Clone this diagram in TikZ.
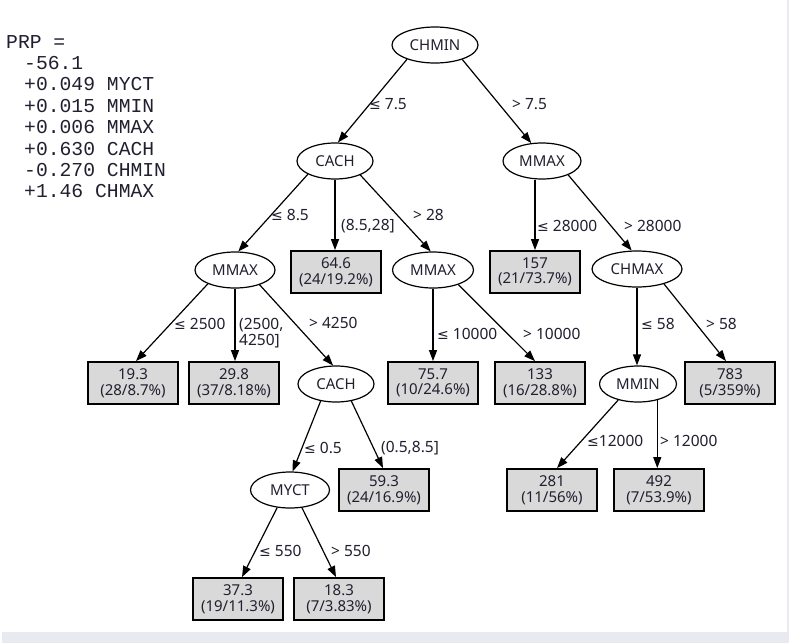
\documentclass[tikz,border=0pt]{standalone}
\usepackage{fontspec}
\setmainfont{Noto Sans}
\newfontfamily\monof{Liberation Mono}
\newfontfamily\symf{DejaVu Sans}
\newcommand{\lsym}{{\symf\fontsize{14}{15}\selectfont ≤}}
\usetikzlibrary{shapes.geometric,arrows.meta}
\definecolor{txt}{HTML}{202030}
\definecolor{boxfill}{HTML}{D9D9D9}
\definecolor{strip}{HTML}{E9E9F1}
\begin{document}
\begin{tikzpicture}[x=1pt,y=-1pt,
  every node/.style={text=txt, font=\fontsize{15}{15.5}\selectfont},
  split/.style={draw=black, ellipse, line width=1.2pt, fill=white, inner sep=0pt, minimum height=36pt, minimum width=#1},
  split/.default=79pt,
  leaf/.style={draw=black, line width=1.8pt, fill=boxfill, minimum width=90pt, minimum height=42pt, align=center, inner sep=0pt},
  conn/.style={line width=1.2pt, -{Triangle[length=11pt,width=8pt]}},
  lbl/.style={anchor=west, inner sep=0pt, align=left, font=\fontsize{15.5}{16}\selectfont}]
\useasboundingbox (0,0) rectangle (789,643);
\fill[white] (0,0) rectangle (789,643);
\fill[strip] (2,632) rectangle (789,643);
\fill[strip] (787,0) rectangle (789,643);

% formula
\node[anchor=north west, inner sep=0pt, align=left, font=\monof\fontsize{19.7}{21.4}\selectfont] (formula) at (6,35)
 {PRP =\\\hspace*{18pt}-56.1\\\hspace*{18pt}+0.049 MYCT\\\hspace*{18pt}+0.015 MMIN\\\hspace*{18pt}+0.006 MMAX\\\hspace*{18pt}+0.630 CACH\\\hspace*{18pt}-0.270 CHMIN\\\hspace*{18pt}+1.46 CHMAX};

% split nodes
\node[split=86pt] (chmin) at (435,45) {CHMIN};
\node[split=76pt] (cachA) at (335,161) {CACH};
\node[split=78pt] (mmaxR) at (542,161) {MMAX};
\node[split=80pt] (mmaxL) at (235,270) {MMAX};
\node[split=81pt] (mmaxM) at (433,270) {MMAX};
\node[split=90pt] (chmax) at (637,269) {CHMAX};
\node[split=76pt] (cachB) at (336,384) {CACH};
\node[split=77pt] (mmin) at (638,384) {MMIN};
\node[split=79pt] (myct) at (290,490) {MYCT};

% leaves
\node[leaf] (n646) at (336,272) {64.6\\(24/19.2\%)};
\node[leaf] (n157) at (535,272) {157\\(21/73.7\%)};
\node[leaf] (n193) at (133,383) {19.3\\(28/8.7\%)};
\node[leaf] (n298) at (234,383) {29.8\\(37/8.18\%)};
\node[leaf] (n757) at (433,383) {75.7\\(10/24.6\%)};
\node[leaf] (n133) at (540,383) {133\\(16/28.8\%)};
\node[leaf] (n783) at (730,383) {783\\(5/359\%)};
\node[leaf] (n593) at (384,490) {59.3\\(24/16.9\%)};
\node[leaf] (n281) at (552,490) {281\\(11/56\%)};
\node[leaf] (n492) at (659,490) {492\\(7/53.9\%)};
\node[leaf] (n373) at (238,599) {37.3\\(19/11.3\%)};
\node[leaf] (n183) at (339,599) {18.3\\(7/3.83\%)};

% connectors
\draw[conn] (chmin.-153) -- (cachA.81);
\draw[conn] (chmin.-28) -- (mmaxR.121);
\draw[conn] (cachA.-154) -- (mmaxL.80);
\draw[conn] (cachA.south) -- (cachA.south |- n646.north);
\draw[conn] (cachA.-29) -- (mmaxM.97);
\draw[conn] (mmaxR.south -| n157.north) -- (n157.north);
\draw[conn] (mmaxR.-28) -- (chmax.106);
\draw[conn] (mmaxL.-153) -- ([xshift=3pt]n193.north);
\draw[conn] (mmaxL.south) -- (mmaxL.south |- n298.north);
\draw[conn] (mmaxL.-31) -- (cachB.99);
\draw[conn] (mmaxM.south) -- (mmaxM.south |- n757.north);
\draw[conn] (mmaxM.-30) -- ([xshift=-5pt]n133.north);
\draw[conn] (chmax.south) -- (chmax.south |- mmin.north);
\draw[conn] (chmax.-29) -- ([xshift=-4pt]n783.north);
\draw[conn] (cachB.-132) -- (myct.82);
\draw[conn] (cachB.-48) -- ([xshift=-1pt]n593.north);
\draw[conn] (mmin.-141) -- ([xshift=5pt]n281.north);
\draw[conn] (mmin.-40) -- (mmin.-40 |- n492.north);
\draw[conn] (myct.-126) -- ([xshift=4pt]n373.north);
\draw[conn] (myct.-56) -- ([xshift=-3pt]n183.north);

% labels
\node[lbl] (l1) at (369,104) {\lsym\ 7.5};
\node[lbl] (l2) at (512,104) {> 7.5};
\node[lbl] (l3) at (271,215) {\lsym\ 8.5};
\node[lbl] (l4) at (341,226) {(8.5,28]};
\node[lbl] (l5) at (413,215) {> 28};
\node[lbl] (l6) at (537,226) {\lsym\ 28000};
\node[lbl] (l7) at (624,226) {> 28000};
\node[lbl] (l8) at (174,324) {\lsym\ 2500};
\node[lbl] (l9) at (239,333) {(2500,\\4250]};
\node[lbl] (l10) at (309,323) {> 4250};
\node[lbl] (l11) at (437,334) {\lsym\ 10000};
\node[lbl] (l12) at (523,334) {> 10000};
\node[lbl] (l13) at (641,324) {\lsym\ 58};
\node[lbl] (l14) at (706,324) {> 58};
\node[lbl] (l15) at (304,448) {\lsym\ 0.5};
\node[lbl] (l16) at (381,448) {(0.5,8.5]};
\node[lbl] (l17) at (587,441) {\lsym12000};
\node[lbl] (l18) at (660,441) {> 12000};
\node[lbl] (l19) at (259,551) {\lsym\ 550};
\node[lbl] (l20) at (331,551) {> 550};
\end{tikzpicture}
\end{document}
